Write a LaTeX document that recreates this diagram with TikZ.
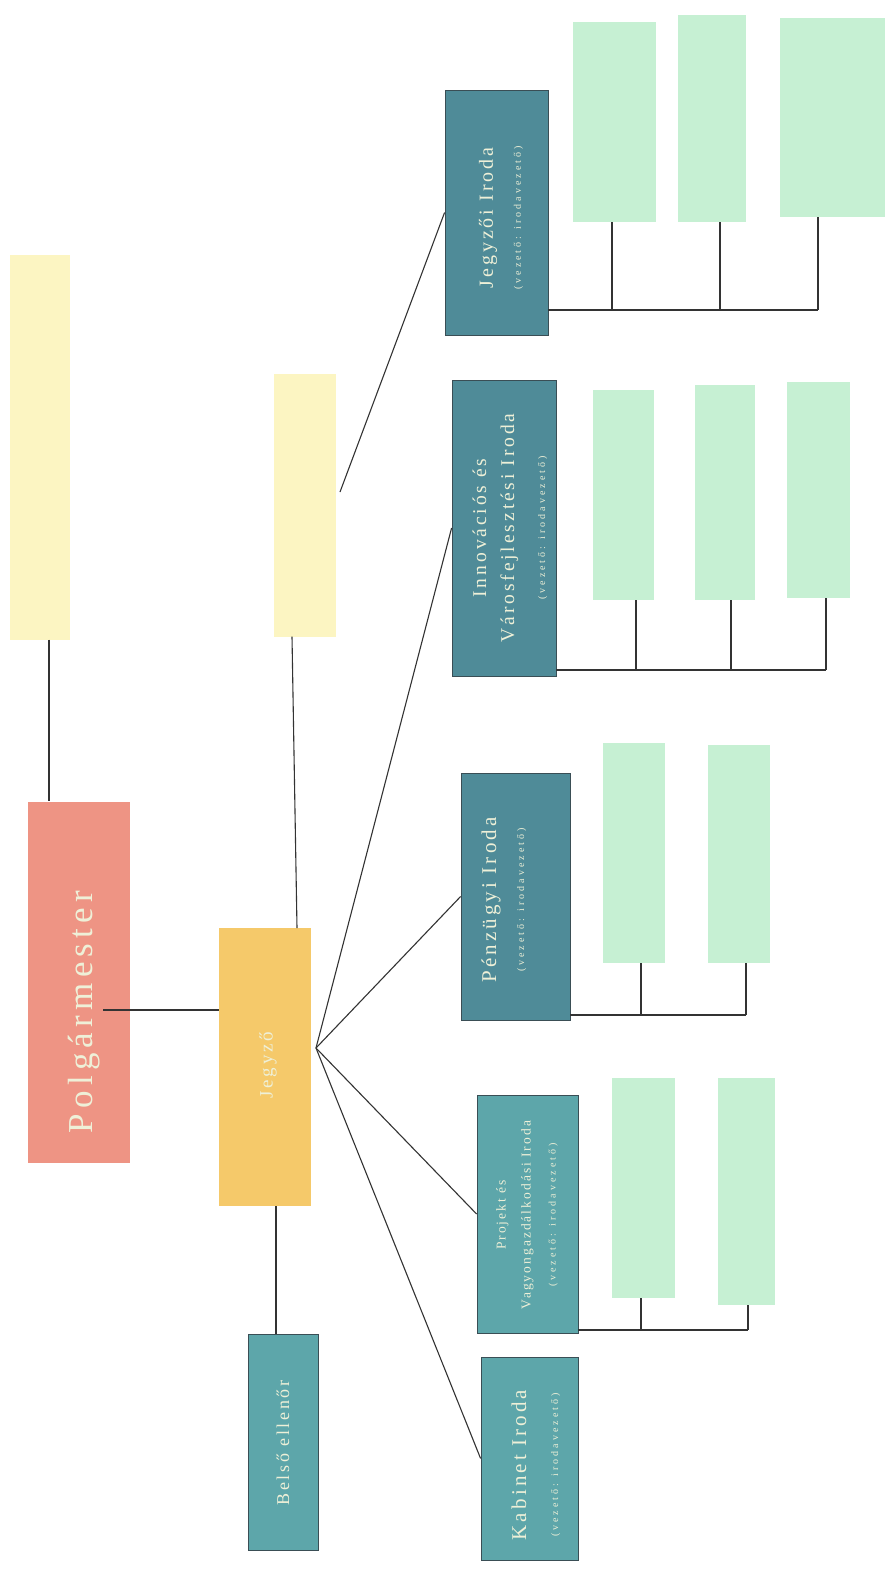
\documentclass[tikz,border=0pt]{standalone}
\usepackage{fontspec}
\setmainfont{Liberation Serif}
\newfontfamily\spa[LetterSpace=15]{Liberation Serif}
\newfontfamily\spb[LetterSpace=30]{Liberation Serif}
\newcommand{\subt}{{\spb\fontsize{10}{12}\selectfont (vezető: irodavezető)}}
\begin{document}
\begin{tikzpicture}[x=1pt,y=-1pt,
  redbox/.style={rectangle,fill=red1,draw=none,inner sep=0pt},
  orbox/.style={rectangle,fill=or1,draw=none,inner sep=0pt},
  ylbox/.style={rectangle,fill=yl1,draw=none,inner sep=0pt},
  tealbox/.style={rectangle,fill=teal1,draw=tealdark,line width=0.8pt,inner sep=0pt},
  tealbox2/.style={rectangle,fill=teal2,draw=tealdark,line width=0.8pt,inner sep=0pt},
  grbox/.style={rectangle,fill=gr1,draw=none,inner sep=0pt},
  lbl/.style={rotate=90,align=center,text=lbltext,inner sep=0pt},
  conn/.style={draw=linec,line width=1.1pt}
]
\definecolor{red1}{HTML}{EE9484}
\definecolor{or1}{HTML}{F5C96A}
\definecolor{yl1}{HTML}{FCF5C2}
\definecolor{teal1}{HTML}{4F8B98}
\definecolor{teal2}{HTML}{5DA6AA}
\definecolor{tealdark}{HTML}{3A4E55}
\definecolor{gr1}{HTML}{C6F0D3}
\definecolor{lbltext}{HTML}{EEF0D8}
\definecolor{linec}{HTML}{333333}
\fill[white] (0,0) rectangle (889,1571);
\useasboundingbox (0,0) rectangle (889,1571);

% top-left yellow
\node[ylbox,minimum width=60pt,minimum height=385pt] (y1) at (40,447) {};
% Polgarmester
\node[redbox,minimum width=102pt,minimum height=361pt] (pm) at (79,982) {};
\node[lbl] (pmt) at (84,1012) {{\spa\fontsize{35}{40}\selectfont Polgármester}};
% Jegyzo
\node[orbox,minimum width=92pt,minimum height=278pt] (jz) at (265,1067) {};
\node[lbl] (jzt) at (268,1065) {{\spa\fontsize{19}{22}\selectfont Jegyző}};
% middle yellow
\node[ylbox,minimum width=62pt,minimum height=263pt] (y2) at (305,505) {};
% Belso ellenor
\node[tealbox2,minimum width=70pt,minimum height=216pt] (be) at (283,1442) {};
\node[lbl] (bet) at (283,1443) {{\spa\fontsize{18}{20}\selectfont Belső ellenőr}};

% department boxes
\node[tealbox,minimum width=103pt,minimum height=245pt] (ji) at (496.5,212.5) {};
\node[lbl,font=\fontsize{10}{28}\selectfont] (jit) at (501,218) {{\spa\fontsize{20}{28}\selectfont Jegyzői Iroda}\\\subt};

\node[tealbox,minimum width=104pt,minimum height=296pt] (iv) at (504,528) {};
\node[lbl,font=\fontsize{10}{28}\selectfont] (ivt) at (510,528) {{\spa\fontsize{19.5}{28}\selectfont Innovációs és}\\{\spa\fontsize{19.5}{28}\selectfont Városfejlesztési Iroda}\\[3pt]\subt};

\node[tealbox,minimum width=109pt,minimum height=247pt] (pz) at (515.5,896.5) {};
\node[lbl,font=\fontsize{10}{28}\selectfont] (pzt) at (504,900) {{\spa\fontsize{21}{28}\selectfont Pénzügyi Iroda}\\\subt};

\node[tealbox2,minimum width=101pt,minimum height=238pt] (pv) at (527.5,1214) {};
\node[lbl,font=\fontsize{10}{25}\selectfont] (pvt) at (527,1215) {{\spa\fontsize{13.5}{25}\selectfont Projekt és}\\{\spa\fontsize{13.5}{25}\selectfont Vagyongazdálkodási Iroda}\\\subt};

\node[tealbox2,minimum width=97pt,minimum height=203pt] (kb) at (529.5,1458.5) {};
\node[lbl,font=\fontsize{10}{32}\selectfont] (kbt) at (536,1465) {{\spa\fontsize{21}{32}\selectfont Kabinet Iroda}\\\subt};

% green boxes group 1
\node[grbox,minimum width=83pt,minimum height=200pt] (g11) at (614.5,122) {};
\node[grbox,minimum width=68pt,minimum height=207pt] (g12) at (712,118.5) {};
\node[grbox,minimum width=105pt,minimum height=199pt] (g13) at (832.5,117.5) {};
% group 2
\node[grbox,minimum width=61pt,minimum height=210pt] (g21) at (623.5,495) {};
\node[grbox,minimum width=60pt,minimum height=215pt] (g22) at (725,492.5) {};
\node[grbox,minimum width=63pt,minimum height=216pt] (g23) at (818.5,490) {};
% group 3
\node[grbox,minimum width=62pt,minimum height=220pt] (g31) at (634,853) {};
\node[grbox,minimum width=62pt,minimum height=218pt] (g32) at (739,854) {};
% group 4
\node[grbox,minimum width=63pt,minimum height=220pt] (g41) at (643.5,1188) {};
\node[grbox,minimum width=57pt,minimum height=227pt] (g42) at (746.5,1191.5) {};

% connectors
\draw[conn] (y1.south -| 49,0) -- (pm.north -| 49,0);
\coordinate (pmr) at (103,1010);
\draw[conn] (pmr) -- (pmr -| jz.west);
\draw[conn] (y2.south -| 292,0) -- (297,928);
\draw[conn] (be.north -| 276,0) -- (276,1206);

\coordinate (y2r) at (340,492);
\draw[conn] (y2r) -- (ji.west);

\coordinate (fan) at (316,1048);
\draw[conn] (fan) -- (iv.west);
\draw[conn] (fan) -- (pz.west);
\draw[conn] (fan) -- (pv.west);
\draw[conn] (fan) -- (kb.west);

% bus group 1
\coordinate (b1) at (548,310);
\draw[conn] (b1) -- (818,310);
\draw[conn] (g11.south -| 612,0) -- (612,310);
\draw[conn] (g12.south -| 720,0) -- (720,310);
\draw[conn] (g13.south -| 818,0) -- (818,310);
% bus group 2
\coordinate (b2) at (556,670);
\draw[conn] (b2) -- (826,670);
\draw[conn] (g21.south -| 636,0) -- (636,670);
\draw[conn] (g22.south -| 731,0) -- (731,670);
\draw[conn] (g23.south -| 826,0) -- (826,670);
% bus group 3
\coordinate (b3) at (570,1015);
\draw[conn] (b3) -- (746,1015);
\draw[conn] (g31.south -| 641,0) -- (641,1015);
\draw[conn] (g32.south -| 746,0) -- (746,1015);
% bus group 4
\coordinate (b4) at (578,1330);
\draw[conn] (b4) -- (748,1330);
\draw[conn] (g41.south -| 641,0) -- (641,1330);
\draw[conn] (g42.south -| 748,0) -- (748,1330);
\end{tikzpicture}
\end{document}
